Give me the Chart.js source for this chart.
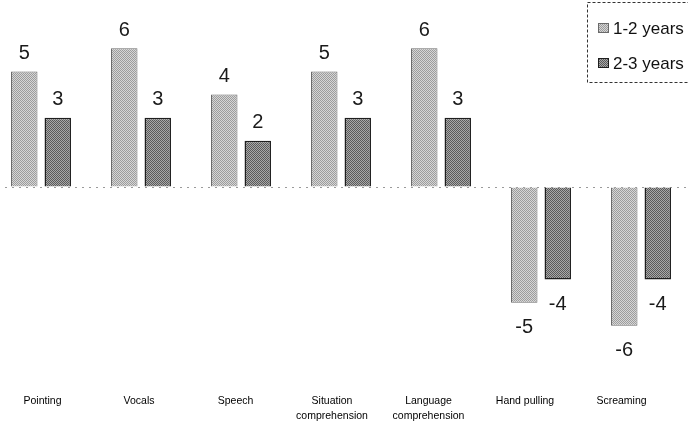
<!DOCTYPE html>
<html>
<head>
<meta charset="utf-8">
<script src="https://cdn.jsdelivr.net/npm/chart.js@4/dist/chart.umd.min.js"></script>
<style>
html, body { margin: 0; padding: 0; background: #fff; overflow: hidden; }
#wrap { position: absolute; left: -9px; top: 0; width: 700px; height: 425px; }
</style>
</head>
<body>
<div id="wrap"><canvas id="myChart"></canvas></div>
<script>
// Chart data
const categories = [
  ["Pointing"],
  ["Vocals"],
  ["Speech"],
  ["Situation", "comprehension"],
  ["Language", "comprehension"],
  ["Hand pulling"],
  ["Screaming"],
];
const seriesLabels = ["1-2 years", "2-3 years"];
const values_1_2 = [5, 6, 4, 5, 6, -5, -6];
const values_2_3 = [3, 3, 2, 3, 3, -4, -4];

const SHIFT = 9; // canvas sits 9px left of the page edge
const FONT = "'Liberation Sans', Arial, sans-serif";

// stippled fills like the scanned print
function makePattern(light, dark) {
  const c = document.createElement("canvas");
  c.width = 4;
  c.height = 4;
  const g = c.getContext("2d");
  for (let y = 0; y < 4; y++) {
    for (let x = 0; x < 4; x++) {
      g.fillStyle = (x + y) % 2 === 0 ? light : dark;
      g.fillRect(x, y, 1, 1);
    }
  }
  return g.createPattern(c, "repeat");
}
const fill1 = makePattern("#d6d6d6", "#9c9c9c");
const fill2 = makePattern("#a8a8a8", "#5a5a5a");

// value labels at bar ends
const valueLabels = {
  id: "valueLabels",
  afterDatasetsDraw(chart) {
    const ctx = chart.ctx;
    ctx.save();
    ctx.font = "20px " + FONT;
    ctx.fillStyle = "#1a1a1a";
    ctx.textAlign = "center";
    ctx.textBaseline = "middle";
    chart.data.datasets.forEach((ds, i) => {
      chart.getDatasetMeta(i).data.forEach((bar, j) => {
        const v = ds.data[j];
        const y = v >= 0 ? bar.y - 18 : bar.y + 25;
        ctx.fillText(String(v), bar.x, y);
      });
    });
    ctx.restore();
  },
};

// boxed legend in the top right corner
const boxLegend = {
  id: "boxLegend",
  afterDraw(chart) {
    const ctx = chart.ctx;
    ctx.save();
    ctx.strokeStyle = "#333";
    ctx.lineWidth = 1;
    ctx.setLineDash([3, 2]);
    ctx.strokeRect(587.5 + SHIFT, 2.5, 120, 80);
    ctx.setLineDash([]);
    ctx.font = "17px " + FONT;
    ctx.textBaseline = "middle";
    const rows = [28, 63];
    chart.data.datasets.forEach((ds, i) => {
      ctx.fillStyle = ds.backgroundColor;
      ctx.fillRect(598 + SHIFT, rows[i] - 5, 11, 10);
      ctx.strokeStyle = ds.borderColor;
      ctx.strokeRect(598.5 + SHIFT, rows[i] - 4.5, 10, 9);
      ctx.fillStyle = "#111";
      ctx.fillText(ds.label, 613 + SHIFT, rows[i] + 1);
    });
    ctx.restore();
  },
};

const config = {
  type: "bar",
  data: {
    labels: categories,
    datasets: [
      {
        label: seriesLabels[0],
        data: values_1_2,
        backgroundColor: fill1,
        borderColor: "#6a6a6a",
        borderWidth: 1,
        categoryPercentage: 0.67,
        barPercentage: 0.79,
      },
      {
        label: seriesLabels[1],
        data: values_2_3,
        backgroundColor: fill2,
        borderColor: "#1e1e1e",
        borderWidth: 1.5,
        categoryPercentage: 0.67,
        barPercentage: 0.79,
      },
    ],
  },
  options: {
    responsive: true,
    maintainAspectRatio: false,
    animation: false,
    layout: { padding: { top: 2, left: 0, right: 0, bottom: 0 } },
    plugins: {
      legend: { display: false },
      tooltip: { enabled: false },
    },
    scales: {
      x: {
        display: false,
      },
      // category names sit on their own scale, slightly tighter than the bars
      xl: {
        type: "linear",
        axis: "x",
        position: "bottom",
        offset: false,
        min: -0.5337,
        max: 6.7202,
        grid: { display: false, drawTicks: false, offset: false },
        border: { display: false },
        afterBuildTicks(axis) {
          axis.ticks = categories.map((c, i) => ({ value: i }));
        },
        afterFit(axis) {
          axis.height = 53;
        },
        ticks: {
          autoSkip: false,
          maxRotation: 0,
          padding: 22,
          color: "#000",
          font: { family: FONT, size: 10.5, lineHeight: 1.43 },
          callback: (v) => categories[v] || "",
        },
      },
      y: {
        min: -8,
        max: 8,
        ticks: { display: false, stepSize: 2 },
        grid: {
          drawTicks: false,
          color: (c) => (c.tick && c.tick.value === 0 ? "#9a9a9a" : "rgba(0,0,0,0)"),
        },
        border: { display: false, dash: [2, 5] },
        afterFit(axis) {
          axis.width = 0;
        },
      },
    },
  },
  plugins: [valueLabels, boxLegend],
};

const myChart = new Chart(document.getElementById("myChart"), config);
</script>
</body>
</html>
